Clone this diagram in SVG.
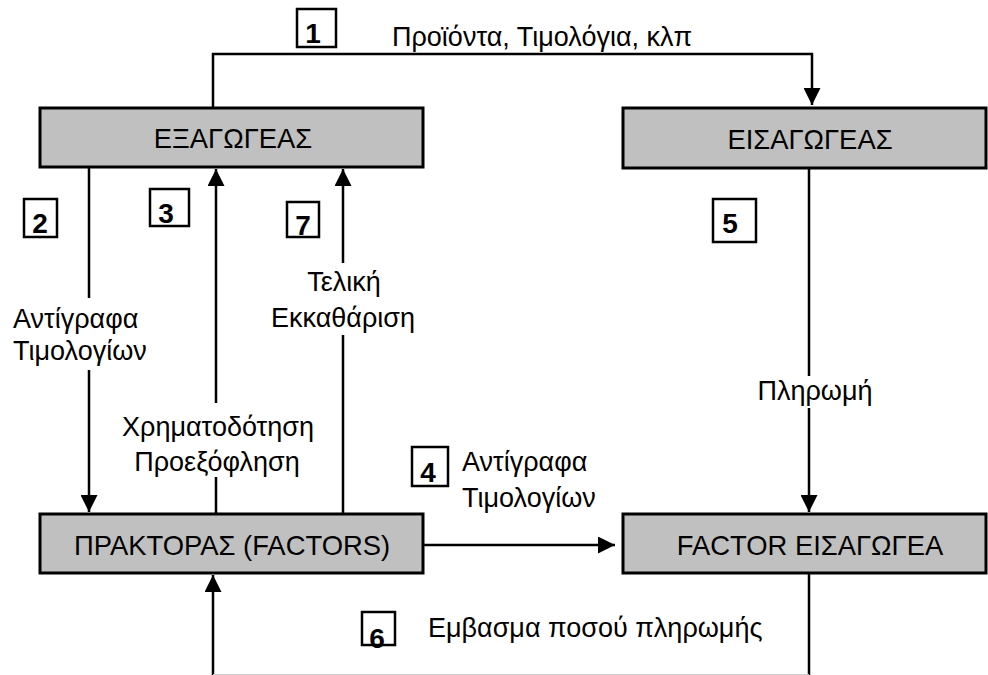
<svg xmlns="http://www.w3.org/2000/svg" width="988" height="675" viewBox="0 0 988 675">
<defs>
<style>
.node rect{fill:#c0c0c0;stroke:#000;stroke-width:3}
.node text{font-family:"Liberation Sans",Arial,sans-serif;font-size:27.4px;fill:#000;text-anchor:middle}
.lbl{font-family:"Liberation Sans",Arial,sans-serif;font-size:27px;fill:#000}
.num rect{fill:none;stroke:#000;stroke-width:2.5}
.num text{font-family:"Liberation Sans",Arial,sans-serif;font-size:28px;font-weight:bold;fill:#000;text-anchor:middle}
.edge{fill:none;stroke:#000;stroke-width:2.5;marker-end:url(#ah)}
</style>
<marker id="ah" viewBox="0 0 10 10" refX="10" refY="5" markerWidth="17" markerHeight="17" orient="auto" markerUnits="userSpaceOnUse">
<path d="M0,0 L10,5 L0,10 z" fill="#000"/>
</marker>
</defs>
<rect width="988" height="675" fill="#fff"/>

<g id="connectors">
<path class="edge" d="M213,107 V54 H812 V105"/>
<path class="edge" d="M89,168 V298 M89,370 V512"/>
<path class="edge" d="M216,513 V477 M216,403 V169"/>
<path class="edge" d="M343,513 V335 M343,263 V169"/>
<path class="edge" d="M809,169 V376 M809,408 V512"/>
<path class="edge" d="M424,545 H615"/>
<path class="edge" d="M809,574 V678 H213 V575"/>
<line x1="213" y1="674.5" x2="809" y2="674.5" stroke="#cfcfcf" stroke-width="1"/>
</g>

<g id="exagogeas" class="node"><rect x="40" y="108" width="383" height="59"/><text x="233" y="148">ΕΞΑΓΩΓΕΑΣ</text></g>
<g id="eisagogeas" class="node"><rect x="623" y="108" width="363" height="60"/><text x="810" y="149">ΕΙΣΑΓΩΓΕΑΣ</text></g>
<g id="praktoras" class="node"><rect x="40" y="514" width="383" height="59"/><text x="232" y="555">ΠΡΑΚΤΟΡΑΣ (FACTORS)</text></g>
<g id="factor-eisagogea" class="node"><rect x="623" y="514" width="363" height="59"/><text x="810" y="555">FACTOR ΕΙΣΑΓΩΓΕΑ</text></g>

<g id="labels">
<text class="lbl" x="392" y="46">Προϊόντα, Τιμολόγια, κλπ</text>
<text class="lbl" x="13" y="328">Αντίγραφα</text>
<text class="lbl" x="13" y="360">Τιμολογίων</text>
<text class="lbl" x="218" y="436" text-anchor="middle">Χρηματοδότηση</text>
<text class="lbl" x="217" y="471" text-anchor="middle">Προεξόφληση</text>
<text class="lbl" x="344" y="291" text-anchor="middle">Τελική</text>
<text class="lbl" x="343" y="327" text-anchor="middle">Εκκαθάριση</text>
<text class="lbl" x="815" y="400" text-anchor="middle">Πληρωμή</text>
<text class="lbl" x="462" y="471">Αντίγραφα</text>
<text class="lbl" x="462" y="507">Τιμολογίων</text>
<text class="lbl" x="428" y="637">Εμβασμα ποσού πληρωμής</text>
</g>

<g id="numbers">
<g id="n1" class="num"><text x="313" y="43">1</text><rect x="297" y="9" width="39" height="38"/></g>
<g id="n2" class="num"><text x="40" y="233">2</text><rect x="24" y="199" width="33" height="38"/></g>
<g id="n3" class="num"><text x="166" y="223">3</text><rect x="150" y="189" width="39" height="37"/></g>
<g id="n7" class="num"><text x="303" y="235">7</text><rect x="287" y="202" width="32" height="35"/></g>
<g id="n4" class="num"><text x="428" y="482">4</text><rect x="412" y="447" width="36" height="39"/></g>
<g id="n5" class="num"><text x="730" y="233">5</text><rect x="713" y="199" width="43" height="43"/></g>
<g id="n6" class="num"><text x="377" y="648">6</text><rect x="362" y="612" width="33" height="33"/></g>
</g>
</svg>
